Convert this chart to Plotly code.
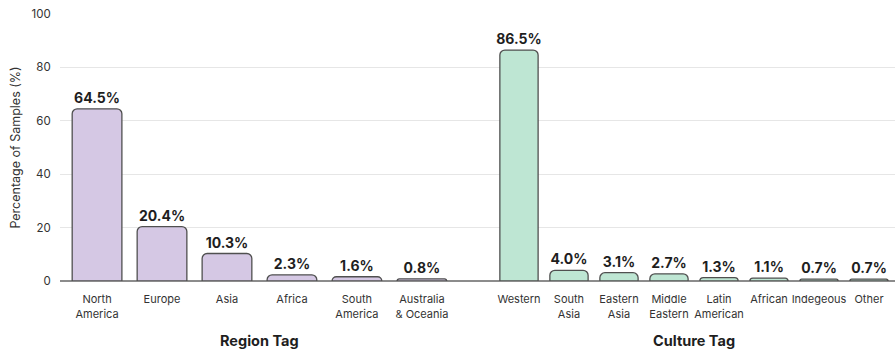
import plotly.graph_objects as go

# Share of samples by region tag and by culture tag
region_labels = ["North<br>America", "Europe", "Asia", "Africa", "South<br>America", "Australia<br>& Oceania"]
region_values = [64.5, 20.4, 10.3, 2.3, 1.6, 0.8]

culture_labels = ["Western", "South<br>Asia", "Eastern<br>Asia", "Middle<br>Eastern", "Latin<br>American",
                  "African", "Indegeous", "Other"]
culture_values = [86.5, 4.0, 3.1, 2.7, 1.3, 1.1, 0.7, 0.7]

y_ticks = [0, 20, 40, 60, 80, 100]

FONT = "Inter"
OUTLINE = "#505050"
label_font = dict(family=FONT, size=14, color="#1e1e1e", weight="bold")

fig = go.Figure()

fig.add_trace(go.Bar(
    x=region_labels, y=region_values, xaxis="x", yaxis="y",
    marker=dict(color="#d5c8e4", line=dict(color=OUTLINE, width=1.3), cornerradius=5),
    texttemplate="%{y:.1f}%", textposition="outside", textfont=label_font,
    constraintext="none", cliponaxis=False, showlegend=False,
))
fig.add_trace(go.Bar(
    x=culture_labels, y=culture_values, xaxis="x2", yaxis="y",
    marker=dict(color="#bee6d3", line=dict(color=OUTLINE, width=1.3), cornerradius=5),
    texttemplate="%{y:.1f}%", textposition="outside", textfont=label_font,
    constraintext="none", cliponaxis=False, showlegend=False,
))

split = 0.491
tick_font = dict(family=FONT, size=11, color="#333333")

fig.update_layout(
    width=895, height=352,
    margin=dict(l=60, r=0, t=14, b=71),
    paper_bgcolor="white", plot_bgcolor="white",
    bargap=0.235,
    font=dict(family=FONT),
    xaxis=dict(domain=[0, split], type="category", range=[-0.57, 5.74],
               showgrid=False, showline=False, tickfont=tick_font,
               ticks="outside", ticklen=8, tickcolor="rgba(0,0,0,0)", anchor="y"),
    xaxis2=dict(domain=[split, 1], type="category", range=[-0.98, 7.52],
                showgrid=False, showline=False, tickfont=tick_font,
                ticks="outside", ticklen=8, tickcolor="rgba(0,0,0,0)", anchor="y"),
    yaxis=dict(range=[0, 100], tickvals=y_ticks, showgrid=True, gridcolor="#e6e6e6", gridwidth=1,
               zeroline=True, zerolinecolor="#8c8c8c", zerolinewidth=1.5,
               tickfont=dict(family=FONT, size=11.5, color="#333333"),
               ticks="outside", ticklen=6, tickcolor="rgba(0,0,0,0)",
               title=dict(text="Percentage of Samples (%)", standoff=8,
                          font=dict(family=FONT, size=12.5, color="#333333"))),
)

# Group titles beneath each half
title_font = dict(family=FONT, size=14.5, color="#1e1e1e", weight="bold")
fig.add_annotation(text="Region Tag", xref="x", yref="paper", x=2.5, y=-0.222, yanchor="middle",
                   showarrow=False, font=title_font)
fig.add_annotation(text="Culture Tag", xref="x2", yref="paper", x=3.5, y=-0.222, yanchor="middle",
                   showarrow=False, font=title_font)

fig.write_html("out.html")
